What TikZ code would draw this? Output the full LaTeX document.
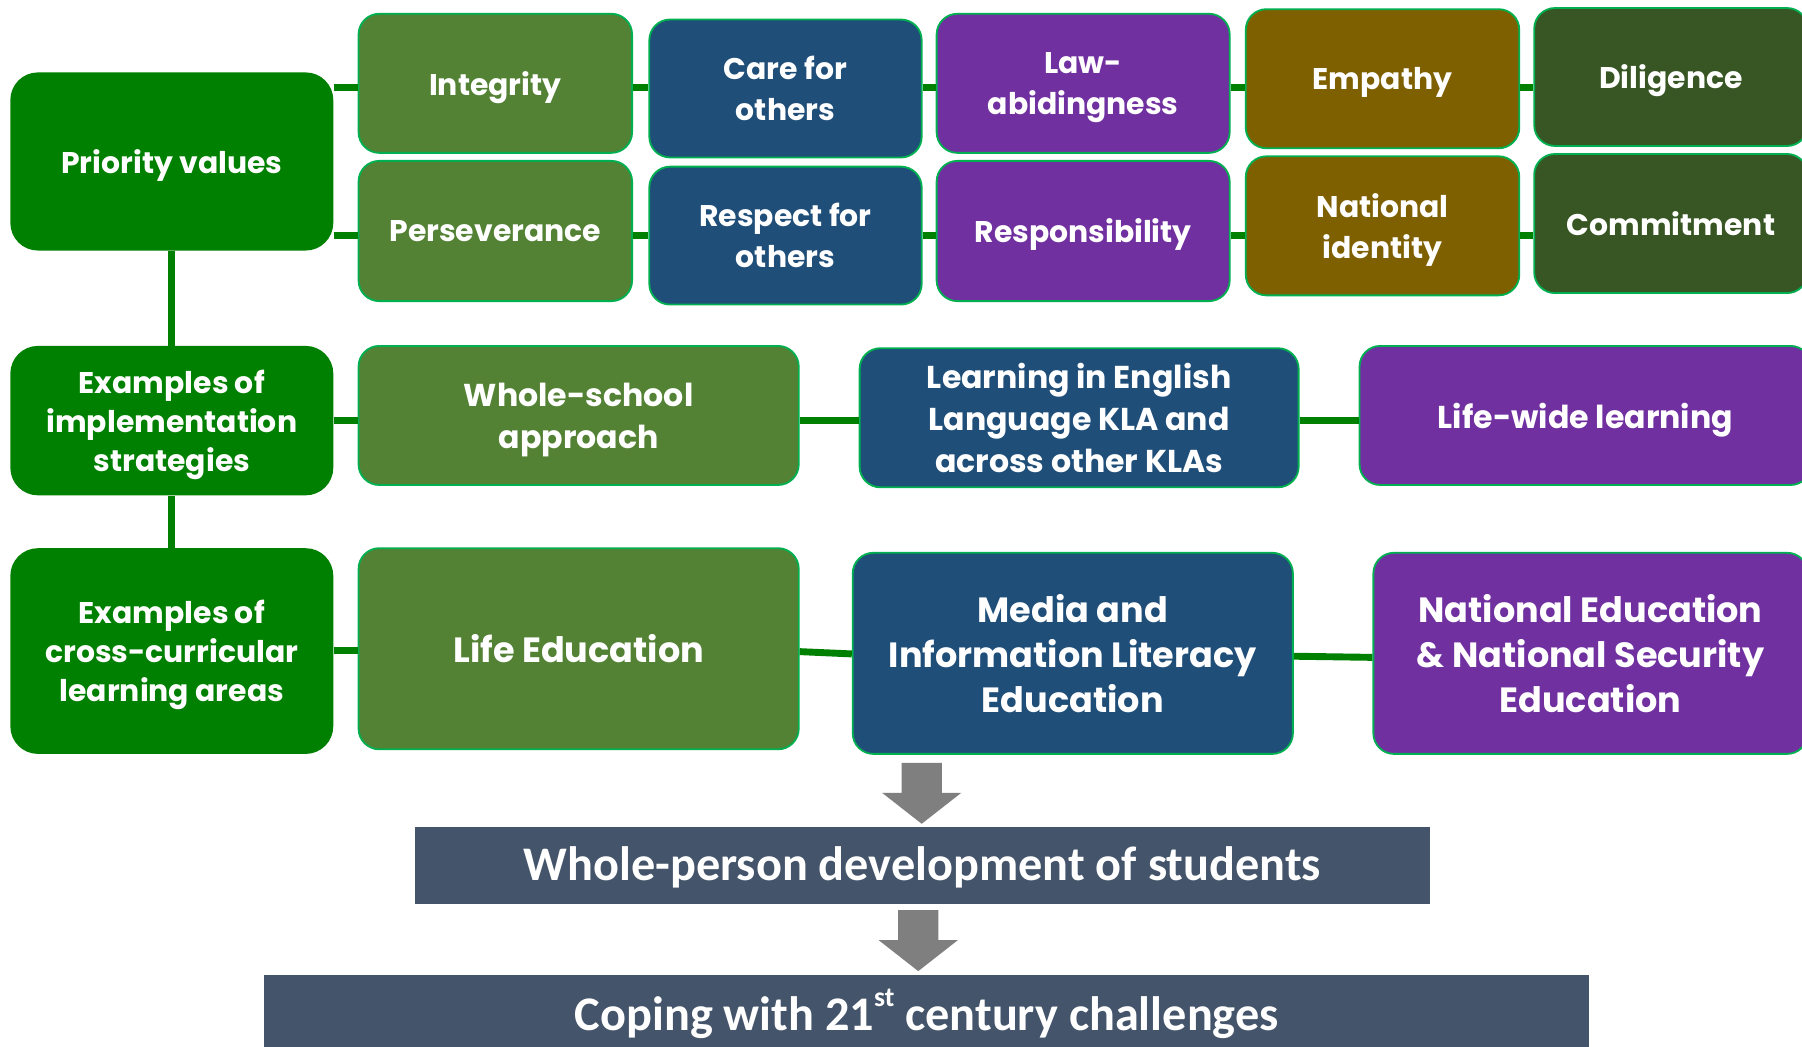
\documentclass[tikz,border=0pt]{standalone}
\usepackage{fontspec}
\setmainfont{Poppins}
\newfontfamily\calibfont{Carlito}
\usetikzlibrary{calc}
\definecolor{leftgreen}{HTML}{008000}
\definecolor{edgegreen}{HTML}{00B050}
\definecolor{olive}{HTML}{548235}
\definecolor{navy}{HTML}{1F4E79}
\definecolor{plum}{HTML}{7030A0}
\definecolor{ochre}{HTML}{7F6000}
\definecolor{forest}{HTML}{375623}
\definecolor{slate}{HTML}{44546A}
\definecolor{arrowgray}{HTML}{7F7F7F}
\tikzset{
  valbox/.style={rectangle, rounded corners=18pt, draw=edgegreen, line width=1.6pt,
    text=white, align=center, inner sep=0pt, text depth=0pt,
    font=\fontsize{26}{36}\selectfont\bfseries},
  headbox/.style={rectangle, rounded corners=24pt, fill=leftgreen, text=white,
    align=center, inner sep=0pt, text depth=0pt, minimum width=281pt,
    font=\fontsize{26}{34}\selectfont\bfseries},
  midbox/.style={valbox, font=\fontsize{27.5}{36.5}\selectfont\bfseries},
  bigbox/.style={valbox, font=\fontsize{30.5}{39}\selectfont\bfseries},
  outbox/.style={rectangle, fill=slate, text=white, inner sep=0pt,
    font=\calibfont\bfseries\fontsize{42}{44}\selectfont},
  link/.style={draw=leftgreen, line width=6pt},
  blockarrow/.style={fill=arrowgray}
}
% downward block arrow: tip coordinate, total length
\newcommand\downblockarrow[2]{%
  \fill[blockarrow] ($(#1)+(-17.5,-#2)$) -- ($(#1)+(17.5,-#2)$) -- ($(#1)+(17.5,-27)$)
    -- ($(#1)+(34.5,-27)$) -- (#1) -- ($(#1)+(-34.5,-27)$) -- ($(#1)+(-17.5,-27)$) -- cycle;}
\begin{document}
\begin{tikzpicture}[x=1pt,y=-1pt]
\useasboundingbox (0,0) rectangle (1568,911);
\fill[white] (0,0) rectangle (1568,911);
\clip (0,0) rectangle (1568,911);

% left column headings
\node[headbox, minimum height=155pt] (pv) at (149.5,140.5) {Priority values};
\node[headbox, minimum height=130pt] (eis) at (149.5,366) {Examples of\\implementation\\strategies};
\node[headbox, minimum height=179pt] (ecc) at (149.5,566.5) {Examples of\\cross-curricular\\learning areas};

% priority values, first row
\node[valbox, fill=olive, minimum width=238pt, minimum height=121pt] (int) at (431,72.5) {Integrity};
\node[valbox, fill=navy, minimum width=237pt, minimum height=120pt] (care) at (683.5,77) {Care for\\others};
\node[valbox, fill=plum, minimum width=255pt, minimum height=121pt] (law) at (942.5,72.5) {Law-\\abidingness};
\node[valbox, fill=ochre, minimum width=238pt, minimum height=121pt] (emp) at (1203,68.5) {Empathy};
\node[valbox, fill=forest, minimum width=238pt, minimum height=120pt] (dil) at (1454,67) {Diligence};

% priority values, second row
\node[valbox, fill=olive, minimum width=238pt, minimum height=122pt] (per) at (431,201) {Perseverance};
\node[valbox, fill=navy, minimum width=237pt, minimum height=120pt] (resp) at (683.5,205) {Respect for\\others};
\node[valbox, fill=plum, minimum width=255pt, minimum height=122pt] (res) at (942.5,201) {Responsibility};
\node[valbox, fill=ochre, minimum width=238pt, minimum height=121pt] (nat) at (1203,196.5) {National\\identity};
\node[valbox, fill=forest, minimum width=238pt, minimum height=121pt] (com) at (1454,194.5) {Commitment};

% implementation strategies
\node[midbox, fill=olive, minimum width=383pt, minimum height=121pt] (wsa) at (503.5,361.5) {Whole-school\\approach};
\node[midbox, fill=navy, minimum width=382pt, minimum height=121pt] (lel) at (939,363.5) {Learning in English\\Language KLA and\\across other KLAs};
\node[midbox, fill=plum, minimum width=393pt, minimum height=121pt] (lwl) at (1379.5,361.5) {Life-wide learning};

% cross-curricular learning areas
\node[bigbox, fill=olive, minimum width=383pt, minimum height=175pt] (le) at (503.5,564.5) {Life Education};
\node[bigbox, fill=navy, minimum width=383pt, minimum height=175pt] (mil) at (933.5,568.5) {Media and\\Information Literacy\\Education};
\node[bigbox, fill=plum, minimum width=378pt, minimum height=175pt] (ne) at (1384,568.5) {National Education\\\& National Security\\Education};

% outcomes
\node[outbox, minimum width=883pt, minimum height=67pt, text height=33pt, text depth=7pt] (w1) at (802.5,753.5) {Whole-person development of students};
\node[outbox, minimum width=1153pt, minimum height=74pt, anchor=north, text height=32pt, text depth=9pt] (w2) at (806.5,848) {Coping with 21\raisebox{0.5em}{\fontsize{24}{24}\selectfont st} century challenges};

% connectors between headings and values
\draw[link] (pv.south) -- (eis.north);
\draw[link] (eis.south) -- (ecc.north);
\draw[link] (pv.east |- 0,76) -- (int.west |- 0,76);
\draw[link] (int.east |- 0,76) -- (care.west |- 0,76);
\draw[link] (care.east |- 0,76) -- (law.west |- 0,76);
\draw[link] (law.east |- 0,76) -- (emp.west |- 0,76);
\draw[link] (emp.east |- 0,76) -- (dil.west |- 0,76);
\draw[link] (pv.east |- 0,205) -- (per.west |- 0,205);
\draw[link] (per.east |- 0,205) -- (resp.west |- 0,205);
\draw[link] (resp.east |- 0,205) -- (res.west |- 0,205);
\draw[link] (res.east |- 0,205) -- (nat.west |- 0,205);
\draw[link] (nat.east |- 0,205) -- (com.west |- 0,205);
\draw[link] (eis.east |- 0,366) -- (wsa.west |- 0,366);
\draw[link] (wsa.east |- 0,366) -- (lel.west |- 0,366);
\draw[link] (lel.east |- 0,366) -- (lwl.west |- 0,366);
\draw[link] (ecc.east |- 0,566) -- (le.west |- 0,566);
\draw[link] (le.east |- 0,567) -- (mil.west |- 0,569);
\draw[link] (mil.east |- 0,571) -- (ne.west |- 0,572);

% arrows towards the outcomes
\downblockarrow{$(w1.north)+(-0.5,-3)$}{53}
\downblockarrow{$(w2.north)+(-7.5,-3)$}{53}
\end{tikzpicture}
\end{document}
